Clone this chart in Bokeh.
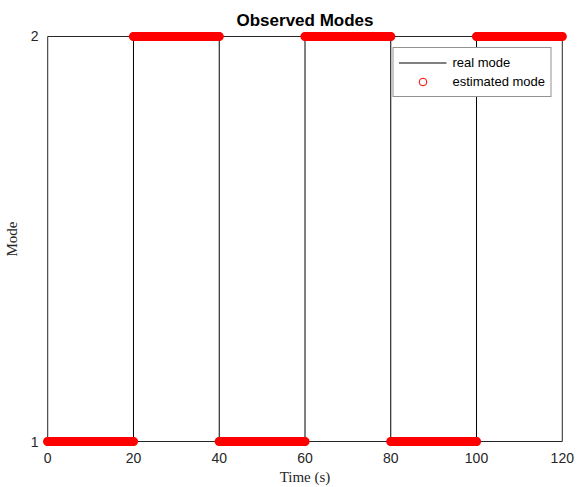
import numpy as np
from bokeh.plotting import figure
from bokeh.models import FixedTicker, Range1d, Legend, LegendItem
from bokeh.embed import file_html
from bokeh.resources import INLINE

# ---- data ----
x_ticks = [0, 20, 40, 60, 80, 100, 120]
y_ticks = [1, 2]
real_times = [0, 20, 40, 60, 80, 100, 120]
real_modes = [1, 2, 1, 2, 1, 2, 2]
est_seg_start = [0, 20, 40, 60, 80, 100]
est_seg_end = [20, 40, 60, 80, 100, 120]
est_seg_mode = [1, 2, 1, 2, 1, 2]
est_sample_step = 0.2

est_t, est_m = [], []
for s, e, m in zip(est_seg_start, est_seg_end, est_seg_mode):
    t = np.arange(s, e + est_sample_step / 2, est_sample_step)
    est_t.extend(t.tolist())
    est_m.extend([m] * len(t))

x_pad = 1.45
y_pad = 0.0148

p = figure(width=577, height=487, output_backend="svg", toolbar_location=None,
           x_range=Range1d(x_ticks[0] - x_pad, x_ticks[-1] + x_pad),
           y_range=Range1d(y_ticks[0] - y_pad, y_ticks[-1] + y_pad),
           min_border_left=41, min_border_right=9, min_border_top=30, min_border_bottom=40)
p.background_fill_color = "white"
p.border_fill_color = "white"
p.outline_line_color = None
p.grid.visible = False

# axes box
p.quad(left=[x_ticks[0]], right=[x_ticks[-1]], bottom=[y_ticks[0]], top=[y_ticks[-1]],
       fill_color=None, line_color="#262626", line_width=1)

r_real = p.step(real_times, real_modes, mode="after", line_color="black", line_width=1)
# legend key glyph (thin open circle), hidden under the thick markers
r_est_key = p.scatter(est_t[:1], est_m[:1], marker="circle", size=8, line_color="#FF0000",
                      line_width=1, fill_color=None)
r_est = p.scatter(est_t, est_m, marker="circle", size=7, line_color="#FF0000",
                  line_width=2.2, fill_color=None)

for ax in (p.xaxis[0], p.yaxis[0]):
    ax.axis_line_color = None
    ax.major_tick_line_color = None
    ax.minor_tick_line_color = None
    ax.major_tick_out = 0
    ax.major_tick_in = 0
    ax.minor_tick_out = 0
    ax.minor_tick_in = 0
    ax.major_label_text_font = "Liberation Sans"
    ax.major_label_text_font_size = "14px"
    ax.major_label_text_color = "#262626"
    ax.axis_label_text_font = "Liberation Serif"
    ax.axis_label_text_font_size = "15px"
    ax.axis_label_text_font_style = "normal"
    ax.axis_label_text_color = "#262626"

p.xaxis.ticker = FixedTicker(ticks=x_ticks)
p.yaxis.ticker = FixedTicker(ticks=y_ticks)
p.xaxis.axis_label = "Time (s)"
p.yaxis.axis_label = "Mode"
p.xaxis.major_label_standoff = 5
p.yaxis.major_label_standoff = 3
p.xaxis.axis_label_standoff = 3
p.yaxis.axis_label_standoff = 8

p.title.text = "Observed Modes"
p.title.align = "center"
p.title.text_font = "Liberation Sans"
p.title.text_font_size = "17px"
p.title.text_font_style = "bold"
p.title.text_color = "black"
p.title.standoff = 2

legend = Legend(items=[LegendItem(label="real mode", renderers=[r_real]),
                       LegendItem(label="estimated mode", renderers=[r_est_key])],
                location="top_right")
legend.margin = 17
legend.padding = 5
legend.spacing = 0
legend.glyph_width = 48
legend.glyph_height = 19
legend.label_height = 19
legend.label_standoff = 6
legend.label_text_font = "Liberation Sans"
legend.label_text_font_size = "13px"
legend.label_text_color = "black"
legend.border_line_color = "#262626"
legend.border_line_width = 1
legend.background_fill_color = "white"
legend.background_fill_alpha = 1
p.add_layout(legend)

open("out.html", "w").write(file_html(p, INLINE))
